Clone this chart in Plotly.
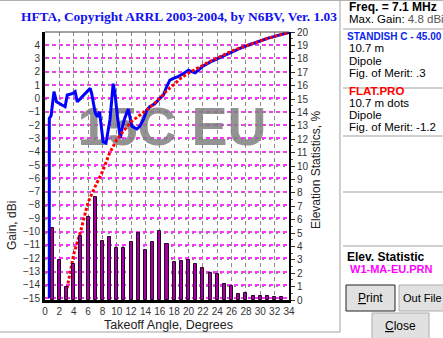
import plotly.graph_objects as go

# ---- data -------------------------------------------------------------
# Elevation statistics (% of openings) per takeoff angle, W1-MA to EU
stat_angles = list(range(1, 34))
stat_pct = [5.4, 3.0, 1.0, 2.7, 4.8, 6.2, 7.7, 4.4, 4.7, 3.9, 3.9, 4.3, 5.0,
            3.7, 4.3, 5.15, 4.2, 2.85, 2.9, 3.0, 2.7, 2.4, 2.0, 1.95, 1.2,
            1.05, 0.45, 0.5, 0.3, 0.3, 0.3, 0.25, 0.25]

# STANDISH C - 45.00 : 10.7 m dipole over real terrain (gain, dBi)
standish_angle = [0.6, 0.6, 0.85, 1.25, 1.6, 2.8, 3.1, 3.9, 4.2, 4.5, 6.3,
                  6.5, 7.0, 7.3, 7.6, 7.9, 8.1, 8.5, 8.6, 9.05, 9.5, 9.75,
                  10.1, 10.5, 10.8, 11.1, 11.6, 12.1, 12.8, 13.2, 13.7, 14.2,
                  14.6, 15.3, 16.0, 16.5, 16.95, 17.4, 17.9, 18.6, 19.3, 20.0,
                  20.2, 20.9, 21.1, 22, 23, 24, 25, 26, 27, 28, 29, 30, 31,
                  32, 33, 34]
standish_gain = [-15.0, -1.5, -1.3, 0.5, -0.26, -0.63, 0.25, 0.37, 0.5, -0.26,
                 0.75, 0.37, -1.1, -1.38, -1.0, -2.4, -3.26, -3.36, -3.0, -1.6,
                 1.1, 0.37, -1.38, -3.0, -2.1, -1.5, -0.8, -2.1, -2.3, -2.1,
                 -1.6, -0.88, -0.63, -0.4, 0.0, 0.25, 0.87, 1.37, 1.5, 1.65,
                 1.87, 2.12, 2.07, 1.92, 2.0, 2.42, 2.72, 2.98, 3.25, 3.5,
                 3.72, 3.93, 4.13, 4.33, 4.5, 4.65, 4.8, 4.95]

# FLAT.PRO : 10.7 m dipole over flat ground (gain, dBi)
flat_angle = [2.8, 3, 4, 5, 6, 7, 8, 9, 10, 11, 12, 13, 14, 15, 16, 17, 18,
              19, 20, 21, 22, 23, 24, 25, 26, 27, 28, 29, 30, 31, 32, 33, 34]
flat_gain = [-15.0, -14.4, -11.7, -9.9, -7.8, -6.6, -5.5, -4.1, -3.1, -2.4,
             -1.75, -1.35, -0.95, -0.5, 0.0, 0.6, 1.05, 1.55, 1.9, 2.2, 2.5,
             2.78, 3.02, 3.3, 3.55, 3.75, 3.95, 4.15, 4.35, 4.5, 4.65, 4.8,
             4.95]

gain_ticks = list(range(-15, 5))
stat_ticks = list(range(0, 21))
angle_ticks = list(range(0, 35, 2))

# ---- page geometry (pixels) -------------------------------------------
W, H = 443, 338
L, R, T, B = 45, 289, 32, 300


def px(x):
    return (x - L) / (R - L)


def py(y):
    return (B - y) / (B - T)


fig = go.Figure()

# faint background label behind the curves
fig.add_trace(go.Scatter(
    x=[17.7], y=[-2.5], mode="text", text=["15C EU"],
    textfont=dict(family="Liberation Sans", size=54, weight="bold",
                  color="rgba(128,128,128,0.85)"),
    hoverinfo="skip", showlegend=False))

fig.add_trace(go.Bar(
    x=stat_angles, y=stat_pct, yaxis="y2", width=0.42,
    marker=dict(color="#a0009c", line=dict(color="#2a002a", width=1)),
    showlegend=False))

fig.add_trace(go.Scatter(
    x=standish_angle, y=standish_gain, mode="lines",
    line=dict(color="#0000ff", width=3), showlegend=False))

fig.add_trace(go.Scatter(
    x=flat_angle, y=flat_gain, mode="lines",
    line=dict(color="#ff0000", width=3, dash="3px,2px"), showlegend=False))

tickfont = dict(family="Liberation Sans", size=10, color="#333333")

fig.update_layout(
    width=W, height=H,
    margin=dict(l=L, r=W - R, t=T, b=H - B),
    paper_bgcolor="white", plot_bgcolor="white",
    font=dict(family="Liberation Sans"),
    bargap=0,
    xaxis=dict(range=[0, 34], tickvals=angle_ticks, tickfont=tickfont,
               showgrid=True, gridcolor="#8a8a8a", griddash="4px,3px",
               gridwidth=1, showline=True, linecolor="black", linewidth=3,
               ticks="", zeroline=False, fixedrange=True),
    yaxis=dict(range=[-15.13, 4.98], tickvals=gain_ticks, tickfont=tickfont,
               showgrid=True, gridcolor="#ff33ff", griddash="4px,3px",
               gridwidth=1.5, showline=True, linecolor="black", linewidth=3,
               ticks="", zeroline=False),
    yaxis2=dict(range=[0, 20], tickvals=stat_ticks, tickfont=tickfont,
                overlaying="y", side="right", showgrid=True,
                gridcolor="#8a8a8a", griddash="2px,5px", gridwidth=1,
                showline=True, linecolor="black", linewidth=2,
                ticks="outside", ticklen=4, tickcolor="#333333",
                minor=dict(dtick=0.5, ticks="outside", ticklen=2,
                           tickcolor="#555555"),
                zeroline=False),
)

shapes = []
# frame of the chart panel
shapes.append(dict(type="line", xref="paper", yref="paper",
                   x0=px(0), x1=px(340), y0=py(332), y1=py(332),
                   line=dict(color="#a0a0a0", width=1)))
shapes.append(dict(type="line", xref="paper", yref="paper",
                   x0=px(340), x1=px(340), y0=py(0), y1=py(332),
                   line=dict(color="#a0a0a0", width=1)))
shapes.append(dict(type="line", xref="paper", yref="paper",
                   x0=px(0), x1=px(443), y0=py(0.5), y1=py(0.5),
                   line=dict(color="#b0b0b0", width=1)))
# top border of the plot area
shapes.append(dict(type="line", xref="paper", yref="paper",
                   x0=0, x1=1, y0=1, y1=1,
                   line=dict(color="#444444", width=1)))
# separators in the side panel
for yy in (29, 88, 136, 192, 246):
    shapes.append(dict(type="line", xref="paper", yref="paper",
                       x0=px(343), x1=px(443), y0=py(yy), y1=py(yy),
                       line=dict(color="#a0a0a0", width=1)))
# buttons
for (x0, x1, y0, y1, edge) in ((346, 395, 285, 311, "#222222"),
                              (399, 446, 285, 311, "#adadad"),
                              (372, 429, 313, 340, "#adadad")):
    shapes.append(dict(type="rect", xref="paper", yref="paper",
                       x0=px(x0), x1=px(x1), y0=py(y1), y1=py(y0),
                       fillcolor="#e1e1e1", line=dict(color=edge, width=1)))

annotations = []


def note(text, x, y, size=12, color="black", bold=False, xanchor="left",
         family="Liberation Sans", angle=0):
    annotations.append(dict(
        text=text, xref="paper", yref="paper", x=px(x), y=py(y),
        xanchor=xanchor, yanchor="middle", showarrow=False, textangle=angle,
        font=dict(family=family, size=size, color=color,
                  weight="bold" if bold else "normal")))


note("HFTA, Copyright ARRL 2003-2004, by N6BV, Ver. 1.03", 179, 16, size=13.4,
     color="#1010f0", bold=True, xanchor="center",
     family="Liberation Serif")
note("Gain, dBi", 12, 226, size=12, color="#222222", xanchor="center",
     angle=-90)
note("Elevation Statistics, %", 316, 170, size=12, color="#222222",
     xanchor="center", angle=-90)
note("Takeoff Angle, Degrees", 168, 325, size=12.5, color="#222222",
     xanchor="center")

note("Freq. = 7.1 MHz", 347, 7, bold=True)
note("Max. Gain: <span style='color:#555'>4.8 dBi</span>", 347, 19, size=11.5)
note("STANDISH C - 45.00", 345, 36, size=10, color="#0a28e6", bold=True)
note("10.7 m", 347, 48, size=11.5)
note("Dipole", 347, 61, size=11.5)
note("Fig. of Merit: .3", 347, 73, size=11.5)
note("FLAT.PRO", 347, 91, size=11.5, color="#ff0000", bold=True)
note("10.7 m dots", 347, 103, size=11.5)
note("Dipole", 347, 115, size=11.5)
note("Fig. of Merit: -1.2", 347, 127, size=11.5)
note("Elev. Statistic", 345, 257, bold=True)
note("W1-MA-EU.PRN", 348, 269, size=11, color="#ff00ff", bold=True)
note("<u>P</u>rint", 370.5, 298, size=12, xanchor="center")
note("Out File", 401, 298, size=11)
note("<u>C</u>lose", 400.5, 326, size=12, xanchor="center")

fig.update_layout(shapes=shapes, annotations=annotations)

fig.write_html("out.html")
